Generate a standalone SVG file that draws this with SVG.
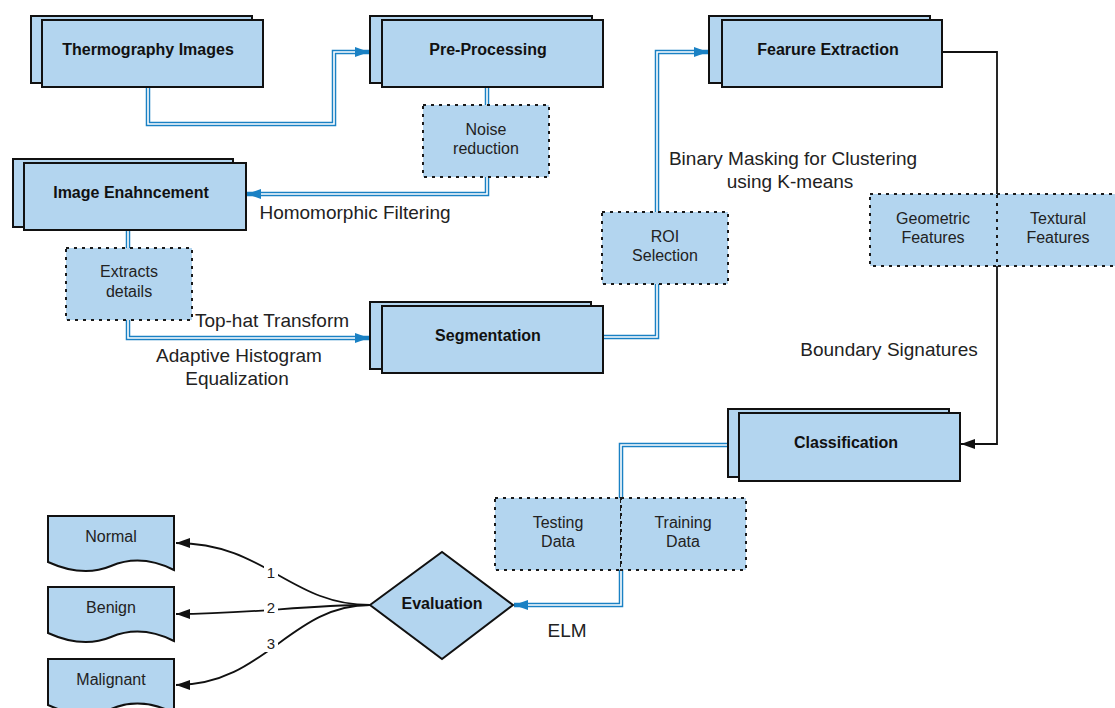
<svg xmlns="http://www.w3.org/2000/svg" width="1115" height="708" viewBox="0 0 1115 708">
<style>
.box{fill:#b3d5ef;stroke:#111;stroke-width:2}
.dash{fill:#b3d5ef;stroke:#1a1a1a;stroke-width:2;stroke-dasharray:3 5}
.t{font-family:"Liberation Sans",Arial,sans-serif;fill:#222;text-anchor:middle}
.b{font-weight:bold;font-size:16px;fill:#111}
.s{font-size:16px}
.l{font-size:19px}
.bo{fill:none;stroke:#1a81c4;stroke-width:4.5}
.wi{fill:none;stroke:#fff;stroke-width:1.6}
.bk{fill:none;stroke:#111;stroke-width:1.8}
</style>
<defs>
<marker id="ab" markerUnits="userSpaceOnUse" viewBox="0 0 14 10" markerWidth="14" markerHeight="10" refX="14" refY="5" orient="auto"><path d="M0,0 L14,5 L0,10 z" fill="#1a81c4"/></marker>
<marker id="ak" markerUnits="userSpaceOnUse" viewBox="0 0 14 10" markerWidth="14" markerHeight="10" refX="14" refY="5" orient="auto"><path d="M0,0 L14,5 L0,10 z" fill="#111"/></marker>
</defs>

<g id="connectors">
<path class="bo" d="M148,87 V124 H334 V52 H369" marker-end="url(#ab)"/>
<path class="wi" d="M148,87 V124 H334 V52 H355"/>
<path class="bo" d="M487,87 V105"/>
<path class="wi" d="M487,87 V105"/>
<path class="bo" d="M487,177 V194 H247" marker-end="url(#ab)"/>
<path class="wi" d="M487,177 V194 H261"/>
<path class="bo" d="M128,230 V248"/>
<path class="wi" d="M128,230 V248"/>
<path class="bo" d="M128,320 V338 H369" marker-end="url(#ab)"/>
<path class="wi" d="M128,320 V338 H355"/>
<path class="bo" d="M603,337 H657 V284"/>
<path class="wi" d="M603,337 H657 V284"/>
<path class="bo" d="M657,212 V52 H708" marker-end="url(#ab)"/>
<path class="wi" d="M657,212 V52 H694"/>
<path class="bo" d="M727,445 H621 V498"/>
<path class="wi" d="M727,445 H621 V498"/>
<path class="bo" d="M621,570 V605 H514" marker-end="url(#ab)"/>
<path class="wi" d="M621,570 V605 H528"/>
<path class="bk" d="M942,52 H997 V194"/>
<path class="bk" d="M997,266 V444 H961" marker-end="url(#ak)"/>
<path class="bk" d="M370,605 C290,605 265,543 176,543" marker-end="url(#ak)"/>
<path class="bk" d="M370,605 C300,605 255,614 176,614" marker-end="url(#ak)"/>
<path class="bk" d="M370,605 C290,605 265,685 176,685" marker-end="url(#ak)"/>
<rect x="264" y="564" width="14" height="17" fill="#fff"/>
<text class="t" x="271" y="578" font-size="15">1</text>
<rect x="264" y="599" width="14" height="17" fill="#fff"/>
<text class="t" x="271" y="613" font-size="15">2</text>
<rect x="264" y="635" width="14" height="17" fill="#fff"/>
<text class="t" x="271" y="649" font-size="15">3</text>
<text class="t l" x="355" y="219">Homomorphic Filtering</text>
<text class="t l" x="272" y="327">Top-hat Transform</text>
<text class="t l" x="239" y="362">Adaptive Histogram</text>
<text class="t l" x="237" y="385">Equalization</text>
<text class="t l" x="793" y="165">Binary Masking for Clustering</text>
<text class="t l" x="790" y="188">using K-means</text>
<text class="t l" x="889" y="356">Boundary Signatures</text>
<text class="t l" x="567" y="637">ELM</text>
</g>

<g id="thermography">
<rect class="box" x="31" y="16" width="221" height="67"/>
<rect class="box" x="42" y="20" width="221" height="67"/>
<text class="t b" x="148" y="55">Thermography Images</text>
</g>
<g id="preprocessing">
<rect class="box" x="370" y="16" width="222" height="67"/>
<rect class="box" x="382" y="20" width="221" height="67"/>
<text class="t b" x="488" y="55">Pre-Processing</text>
</g>
<g id="noise">
<rect class="dash" x="423" y="105" width="126" height="72"/>
<text class="t s" x="486" y="135">Noise</text>
<text class="t s" x="486" y="154">reduction</text>
</g>
<g id="enhancement">
<rect class="box" x="13" y="159" width="220" height="68"/>
<rect class="box" x="24" y="163" width="222" height="67"/>
<text class="t b" x="131" y="198">Image Enahncement</text>
</g>
<g id="extracts">
<rect class="dash" x="66" y="248" width="126" height="72"/>
<text class="t s" x="129" y="277">Extracts</text>
<text class="t s" x="129" y="297">details</text>
</g>
<g id="segmentation">
<rect class="box" x="370" y="302" width="221" height="67"/>
<rect class="box" x="382" y="306" width="221" height="67"/>
<text class="t b" x="488" y="341">Segmentation</text>
</g>
<g id="roi">
<rect class="dash" x="602" y="212" width="126" height="72"/>
<text class="t s" x="665" y="242">ROI</text>
<text class="t s" x="665" y="261">Selection</text>
</g>
<g id="feature">
<rect class="box" x="709" y="16" width="221" height="67"/>
<rect class="box" x="722" y="20" width="220" height="67"/>
<text class="t b" x="828" y="55">Fearure Extraction</text>
</g>
<g id="geometric">
<rect class="dash" x="870" y="194" width="127" height="72"/>
<text class="t s" x="933" y="224">Geometric</text>
<text class="t s" x="933" y="243">Features</text>
</g>
<g id="textural">
<rect class="dash" x="997" y="194" width="122" height="72"/>
<text class="t s" x="1058" y="224">Textural</text>
<text class="t s" x="1058" y="243">Features</text>
</g>
<g id="classification">
<rect class="box" x="728" y="409" width="221" height="68"/>
<rect class="box" x="739" y="413" width="221" height="68"/>
<text class="t b" x="846" y="448">Classification</text>
</g>
<g id="testing">
<rect class="dash" x="495" y="498" width="126" height="72"/>
<text class="t s" x="558" y="528">Testing</text>
<text class="t s" x="558" y="547">Data</text>
</g>
<g id="training">
<rect class="dash" x="621" y="498" width="125" height="72"/>
<text class="t s" x="683" y="528">Training</text>
<text class="t s" x="683" y="547">Data</text>
</g>
<g id="evaluation">
<path class="box" d="M370,605 L442,552 L513,605 L442,659 Z" stroke-width="1.8"/>
<text class="t b" x="442" y="609">Evaluation</text>
</g>
<g id="normal">
<path class="box" stroke-width="1.6" d="M48,516 H174 V570 C150,558 130,558 111,566 C92,574 70,572 48,562 Z"/>
<text class="t s" x="111" y="542">Normal</text>
</g>
<g id="benign">
<path class="box" stroke-width="1.6" d="M48,587 H174 V641 C150,629 130,629 111,637 C92,645 70,643 48,633 Z"/>
<text class="t s" x="111" y="613">Benign</text>
</g>
<g id="malignant">
<path class="box" stroke-width="1.6" d="M48,659 H174 V713 C150,701 130,701 111,709 C92,717 70,715 48,705 Z"/>
<text class="t s" x="111" y="685">Malignant</text>
</g>
</svg>
